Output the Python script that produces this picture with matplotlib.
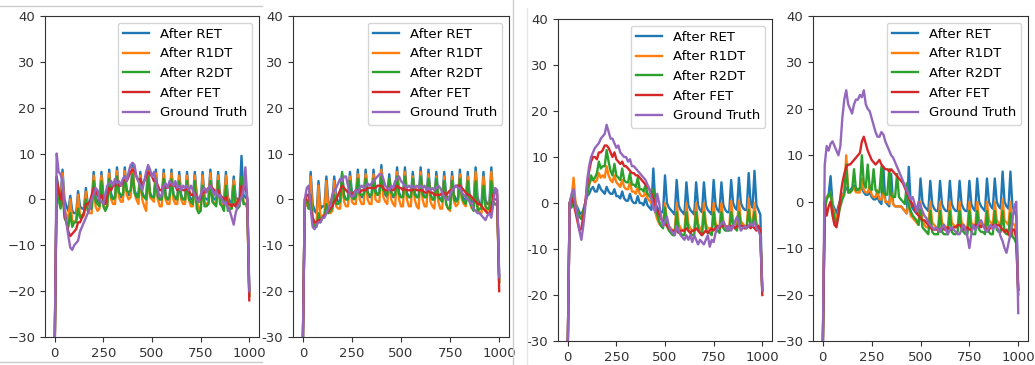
import matplotlib
matplotlib.use("Agg")
import matplotlib.pyplot as plt
from matplotlib.lines import Line2D
from matplotlib.ticker import FuncFormatter

# sample index, every 10th sample
steps = list(range(0, 1001, 10))
labels = ["After RET", "After R1DT", "After R2DT", "After FET", "Ground Truth"]

# ---- panel 1 ----
p1_ret = [-32, 5, 2, 0.5, 6.5, 0, -1.5, -2.5, 0.8, -2.5,
          -3, -3, 1.8, -1.5, -2, -2, 2.5, -1, -1.5, -1.5,
          6, 0.5, -0.5, -0.5, 6, 1, 0, 0, 6.5, 1.2,
          0.3, 0.2, 7, 1.5, 0.5, 0.5, 7, 1.8, 1, 1,
          7.5, 2, 1, 1, 6, 1.5, 0.5, 0.5, 7, 1.5,
          0.5, 0.5, 6.5, 1, 0, 0, 6.5, 1, 0, 0,
          6.5, 1, 0, 0, 6, 1, 0, 0, 6, 1,
          0, 0, 6, 1, -0.5, -0.5, 6, 0.5, 0, 0,
          6.5, 1, 0, 0, 6, 1, 0, -0.5, 6, 0.5,
          -0.5, -0.5, 5, 0.5, 0, 0, 9.5, 1, 0.5, 0,
          -20]
p1_r1dt = [-32, 3, 0, -1, 5.7, -2, -3.5, -4.5, 0, -4.5,
           -5, -4.5, 1, -3.5, -4, -3.5, 1.7, -2.5, -3, -3,
           5.2, -1.5, -2.5, -2, 5.2, -1, -2, -1.5, 5.7, 0,
           -1, -1, 6.2, 0.5, -0.5, -0.5, 6.2, 1, 0, 0.5,
           6.7, 1.5, 0, -1, 5.2, 0, -1.5, -2.5, 6.2, 0.5,
           0, -0.5, 5.7, 0, -1.5, -1.5, 5.7, 0, -1, -1,
           5.7, 0, -1, -1, 5.2, 0, -1, -1, 5.2, 0,
           -1.5, -1.5, 5.2, 0, -2, -2.5, 5.2, -0.5, -1, -1,
           5.7, 0, -1, -1, 5.2, 0, -1, -1.5, 5.2, -0.5,
           -2, -2, 4.2, -0.5, -1, -1, 3, -0.5, -1, -2,
           -21]
p1_r2dt = [-32, 4, 0, -2, 2, -4, -5, -6, -3, -6,
           -5, -5, -2, -4, -3.5, -3, 0, -2.5, -2, -2,
           4, -0.5, -1, -1.5, 4, -1.5, -2.5, -1.5, 4.5, 0.5,
           0, 0.5, 5, 1.5, 1, 1, 5, 2, 1.5, 2,
           5.5, 1.5, 0.5, 0.5, 4.5, 1, 0.5, 0, 5, 1,
           0.5, 0.5, 4.5, 0.5, 0, 0, 4.5, 0.5, 0, 0.5,
           4.5, 1, 0.5, 0, 4, 0.5, 0, 0, 4, 0,
           -0.5, -1, 4, -2, -3, -2.5, 3, -1.5, -1.5, -1,
           4, -0.5, -1, -1.5, 4, -1, -1.5, -2.5, 3, -2.5,
           -2, -2, 3, -1.5, -2, -1.5, 5, -1, -1, -1,
           -21]
p1_fet = [-32, 4.5, 2, 0, 2, -3, -5, -7, -8, -7.5,
          -7, -6.5, -5, -5, -4, -3, -1, -1, -0.5, 1,
          2.5, 2, 1, 0, 1, 0, -1, 1, 2.5, 2,
          3, 3, 4, 3, 3, 3.5, 5, 4, 5, 6,
          6.5, 6, 5, 4, 4.5, 3, 4, 5, 6, 5.5,
          5, 4, 4, 3, 2, 2, 3, 2.5, 2.5, 3,
          3.5, 3, 3, 2, 3, 2.5, 2, 2, 2.5, 2,
          1, 1, 1.5, 0.5, 0, 0, 2, 1.5, 2, 2.5,
          3, 2.5, 2, 1.5, 2, 1, 0.5, 0, 0.5, -1,
          -1, -1.5, -1, -1.5, -0.5, 0, 3, 2, 3, 0,
          -22]
p1_gt = [-32, 10, 6, 5.5, 4, -2, -5, -8, -10.5, -11,
         -10, -9.5, -9, -7, -6, -5, -4, -3, -2, 0,
         1, 2.5, 2, 0, -0.5, -1, 1, 3, 3.5, 4,
         3, 4.5, 3.5, 4, 3, 4.5, 5, 4, 6, 7.5,
         8, 7.5, 5, 4, 3, 2, 4, 6, 7.5, 6.5,
         5, 6, 4, 2, 0.5, 1, 3, 3.5, 2.5, 4,
         3.5, 3, 4, 2.5, 3, 2, 3, 2.5, 3, 2,
         3, 2, 1, 0, -0.5, 1, 2, 2.5, 1.5, 2.5,
         3, 2, 1, 2, 0.5, 1, 0, -1, -0.5, -2,
         -2.5, -4, -5.5, -3, -1.5, -1, 0.5, 2, 7, 0,
         -20]

# ---- panel 2 ----
p2_ret = [-32, 0, -1, -2, 6, -1, -2.5, -3, 4, -2,
          -1.5, -1.5, 5, -0.5, -1, -0.5, 5, 0.5, -0.5, -0.5,
          5.5, 1, 0, 0, 6, 1.5, 0.5, 0.5, 6.5, 1.5,
          0.5, 0.5, 6.5, 1.5, 0.5, 0.5, 6.5, 2, 1, 1,
          7.5, 2, 1, 0.5, 5.5, 1.5, 0.5, 0.5, 7, 1.5,
          0.5, 0.5, 7, 1.5, 0.5, 0.5, 6, 1.5, 0.5, 0.5,
          7, 1.5, 0.5, 0.5, 6.5, 1, 0, 0, 6, 1,
          0, 0, 6, 1, 0, 0, 6, 1, 0, 0,
          6.5, 1, 0, 0, 6, 0.5, -0.5, -0.5, 7, 0.5,
          -1, -1, 6, 0, -1, -1, 7, 0, 0, 0,
          -17]
p2_r1dt = [-32, 0, -1, -2, 5, -4, -5.5, -5, 3, -4,
           -3.5, -3.5, 4, -2.5, -3, -2.5, 4, -1.5, -2, -2,
           4.5, -0.5, -1.5, -1.5, 5, -0.5, -1, -1, 5.5, 0,
           -1, -1, 5.5, 0, -1, -1, 5.5, 0, -0.5, -0.5,
           6.5, 0.5, -0.5, -1, 4.5, 0, -1, -1.5, 6, 0,
           -1.5, -1.5, 6, 0, -1.5, -1.5, 5, 0, -1.5, -2,
           6, 0, -1.5, -1.5, 5.5, -0.5, -1.5, -2, 5, -0.5,
           -2, -2, 5, -1, -2, -2.5, 5, -0.5, -1.5, -1,
           5.5, 0, -1, -1.5, 5, -0.5, -2, -2, 6, -1.5,
           -3, -3, 5, -1.5, -2.5, -2, 6, -0.5, -1, -1.5,
           -18]
p2_r2dt = [-32, -1, 0, -2, 1, -5, -6, -6, -3, -5,
           -4, -3.5, -1, -3, -2.5, -2, 1, -1, -1, -0.5,
           6, 0.5, 0, 0, 4, 0.5, 0, 0.5, 4.5, 1,
           1, 1, 4.5, 1.5, 1, 1, 4.5, 1.5, 1, 1.5,
           5, 2, 1.5, 1, 4.5, 1.5, 1, 1, 5, 1,
           0.5, 0.5, 5, 1, 0.5, 0.5, 4.5, 1, 0.5, 0.5,
           5, 1, 0.5, 0.5, 4.5, 1, 0, 0, 4.5, 0.5,
           0, -0.5, 4, -1, -2, -2, 4, 0, -0.5, 0,
           4.5, 0.5, -0.5, -1, 4, -0.5, -1.5, -2.5, 4, -2.5,
           -2, -2, 3, -1.5, -2, -2, 4, -1, -1, -1,
           -18]
p2_fet = [-32, -1, 1, 1, -2, -4, -5, -5, -4.5, -4.5,
          -4, -3.5, -3, -2.5, -2, -1.5, -0.5, 0, 1, 2,
          3, 2.5, 2, 1.5, 1.5, 1, 1.5, 2, 2, 1.5,
          2, 2, 2, 2.5, 2.5, 2.5, 2.5, 2.5, 3, 3,
          3, 2.5, 2, 2, 2.5, 2, 2, 2.5, 3, 2.5,
          2.5, 2, 2.5, 2, 2, 2, 2, 2.5, 2, 2,
          2, 2, 1.5, 1.5, 2, 1.5, 1.5, 1, 1, 1,
          1, 1.5, 1.5, 1, 1.5, 2, 2, 2.5, 3, 3,
          3, 2.5, 2, 1.5, 1, 1, 0.5, 0, -0.5, -1,
          -1, -1.5, -2, -2.5, -3, -3, -2, 1, 2, 1,
          -20]
p2_gt = [-32, 0, 2.5, 3, -2, -6, -6.5, -5.5, -5, -5,
         -4, -4, -3, -2, -1, 1, 2, 2.5, 3.5, 4.5,
         4, 5, 5, 3, 1, 0.5, 1, 2, 1.5, 2.5,
         3, 2.5, 3, 3.5, 3, 3.5, 4, 4.5, 5, 5.5,
         5.5, 4.5, 3, 2.5, 2, 3, 2.5, 4, 4.5, 5,
         4, 3.5, 3, 2.5, 3, 2.5, 3, 2.5, 3, 2.5,
         3, 2.5, 3, 2, 2.5, 2, 2.5, 2, 2.5, 3,
         2.5, 1.5, 0.5, 0, 0, 1, 2, 2.5, 3, 2.5,
         2.5, 1.5, 1, 0.5, 0, -0.5, -1, -2, -2.5, -3,
         -3, -3.5, -4, -4.5, -3.5, -3, -4, -1, 2.5, 2,
         -17]

# ---- panel 3 ----
p3_ret = [-32, 0, 1.5, 2, 0, -1, -2, -2.5, -1.5, 0,
          1.5, 2, 3, 3.5, 2.5, 2.5, 4, 3, 2.5, 2,
          3.5, 2.5, 2, 2, 3, 1.5, 1.5, 1, 2.5, 1,
          0.5, 0.5, 2, 0.5, 0, 0, 1.5, 0, 0, -0.5,
          1, -0.5, -1, -1.5, 7.5, 0, -1, -1.5, -2, -2,
          6, 0, -1, -1.5, -2, -2.5, 5, -0.5, -1.5, -2,
          -2.5, 4.5, -0.5, -1.5, -2, -2.5, 4.5, -0.5, -1.5, -2,
          4.5, -0.5, -1.5, -2, -2.5, 5, -0.5, -1.5, -2, 4.5,
          -0.5, -1.5, -2, -2, 5, 0, -1, -1.5, 5.5, 0,
          -1, -1.5, -1.5, 6.5, 0, -1, 7, -0.5, -1.5, -2.5,
          -19]
p3_r1dt = [-32, 0, 1, 5.5, 0, -2, -3, -3, -2, 0,
           2, 4, 5, 5, 4.5, 5, 6.5, 5.5, 6, 5.5,
           8, 6, 5, 4.5, 6, 4.5, 4, 3.5, 5, 3.5,
           3, 3, 4.5, 2.5, 2.5, 2, 3.5, 2, 1.5, 1.5,
           2.5, 1, 0.5, 0, 2, -2, -3.5, -4.5, -5, -5,
           0, -4, -5, -5.5, -6, -6, 0, -4.5, -5.5, -6,
           -6, 0, -4.5, -5.5, -6, -6, 0, -4.5, -5.5, -6,
           0, -4.5, -5.5, -5.5, -6, 0, -4.5, -5, -5.5, 0,
           -4, -5, -5, -5.5, 0.5, -4, -4.5, -5, 0.5, -4,
           -4.5, -5, -5, 1, -4, -4.5, 0, -4.5, -5, -6,
           -19]
p3_r2dt = [-32, 0, -1, 2, -1, -2, -3, -3.5, -2, 0,
           2, 4, 6, 5, 5.5, 6.5, 9, 7.5, 8, 8,
           11.5, 9, 7, 6, 8.5, 6, 5.5, 5, 7.5, 5,
           4.5, 4.5, 6.5, 4, 4, 3.5, 5.5, 3, 3, 2.5,
           4, 2, 1.5, 1, 3, -1, -2.5, -4, -5, -5.5,
           -1, -5, -6, -6.5, -7, -7, -2, -6, -6.5, -7,
           -7, -2, -6, -6.5, -7, -7, -2, -5.5, -6.5, -7,
           -2, -5.5, -6.5, -6.5, -7, -2, -5.5, -6, -6.5, -2,
           -5.5, -6, -6, -6, -2, -5, -5.5, -6, -2, -5,
           -5, -5.5, -5.5, -1.5, -5, -5, -2, -5, -5.5, -7,
           -19]
p3_fet = [-32, 0, 1, 0, -2, -4, -6, -5.5, -3, 0,
          4, 7, 9, 10, 10, 9.5, 11, 11, 11.5, 12.5,
          12.5, 12, 11, 10, 11, 9.5, 9, 8.5, 9, 8,
          8, 7.5, 7, 6.5, 6.5, 6, 6, 5.5, 5, 4.5,
          4, 3.5, 3, 2, 1, -0.5, -1.5, -2.5, -3.5, -4,
          -4.5, -5, -5.5, -6, -6, -6, -6, -6.5, -6, -6,
          -6, -5.5, -6, -6.5, -6, -6, -5.5, -6, -6.5, -7,
          -6.5, -6, -6.5, -6, -5.5, -6, -5.5, -5, -5.5, -5,
          -5, -5, -5.5, -5, -5, -5, -5.5, -5, -5, -5,
          -5, -5.5, -5, -5, -5.5, -5, -5.5, -6, -5, -6,
          -20]
p3_gt = [-32, 0, 2, 3, -1, -3, -6, -8, -5, -1,
         5, 8, 10, 11, 12, 12.5, 13, 14, 14.5, 15,
         17, 15.5, 14, 14, 13, 12, 12.5, 11, 10.5, 10,
         10, 9, 9.5, 8, 8, 7.5, 7, 6.5, 6, 5.5,
         5, 4, 3, 1, -1, -2, 2, 0, -3, -5,
         -4, -3, -5, -6, -6.5, -7, -5, -6, -7, -7.5,
         -8, -7, -8, -7, -8.5, -7, -8, -9, -8, -8.5,
         -9, -8, -7, -9.5, -8, -8.5, -6.5, -5.5, -5, -4.5,
         -4, -5, -6, -5, -6, -5, -4, -3, -4.5, -6,
         -5.5, -5, -5.5, -5, -4.5, -5, -4, -5.5, -6, -7,
         -19]

# ---- panel 4 ----
p4_ret = [-32, 0, 1, 1.5, 5.5, -0.5, -1.5, -2.5, -1, 0.5,
          1.5, 2, 3, 2.5, 2.5, 3, 3.5, 3, 2.5, 2.5,
          3, 2, 1.5, 1.5, 2, 1, 0.5, 0.5, 1, 0,
          -0.5, 7.5, 0, -0.5, -1, 6, -0.5, -1, -1, -1,
          -1, -1.5, -2, -2.5, 7.5, -0.5, -1.5, -2, -2.5, -2.5,
          5, 0, -1, -1.5, -2, 4.5, -0.5, -1.5, -2, -2,
          4.5, -0.5, -1.5, -2, -2, 4.5, -0.5, -1.5, -2, -2,
          4.5, -0.5, -1.5, -2, -2, 4.5, -0.5, -1.5, -2, 5,
          0, -1, -1.5, -2, 5, 0, -1, -1.5, 5, 0,
          -1, -1.5, 6.5, 0, -1, -1.5, 6.5, -1, -2, -3,
          -19]
p4_r1dt = [-32, 0, 1, 1, 2, -1, -2.5, -4, -2, 0,
           1, 2, 10, 2, 2, 2.5, 3, 2, 2, 2,
           5, 2.5, 2, 2, 3.5, 1.5, 1, 1, 2.5, 0.5,
           0.5, 2, 0, 0, -0.5, 2, -0.5, -1, -1, -1,
           -1, -1.5, -2, -2.5, 0, -3, -3.5, -4, -4.5, -5,
           0, -4, -5, -5.5, -5.5, 0, -4.5, -5, -5.5, -5.5,
           0, -4.5, -5, -5.5, -5.5, 0, -4.5, -5, -5.5, -5.5,
           0, -4.5, -5, -5.5, -5.5, 0, -4.5, -5, -5.5, 0,
           -4, -5, -5, -5.5, 0, -4, -4.5, -5, 0, -4,
           -4.5, -5, 0.5, -4, -4.5, -5, 0, -4.5, -5, -6,
           -19]
p4_r2dt = [-32, -2, 0.5, 1.5, 2, -1.5, -3.5, -5, -3, -1,
           0.5, 1.5, 8, 2, 2, 2.5, 7, 2.5, 2.5, 3,
           10, 4, 3, 8, 3, 2.5, 7, 2.5, 2, 2,
           7.5, 2, 1.5, 1.5, 7, 1.5, 1, 1, 6, 1,
           0.5, 0, -0.5, 4, -1, -2, -3, -3.5, -4, -5,
           -1.5, -5.5, -6, -6.5, -7, -2, -6.5, -7, -7, -7,
           -2, -6.5, -7, -7, -7, -2, -6.5, -7, -7, -6.5,
           -2, -6, -6.5, -7, -7, -2, -6.5, -7, -7, -2,
           -6, -6.5, -6.5, -7, -2, -6.5, -7, -7, -2, -6,
           -6.5, -6.5, -2, -6.5, -7, -7, -2.5, -7.5, -8, -9,
           -19]
p4_fet = [-32, 0, -3, -1, 0, -3, -5, -5.5, -3, 1,
          4, 6, 7.5, 8, 8, 8.5, 9, 9.5, 10, 10.5,
          13, 14, 12.5, 11, 10, 9, 8.5, 8, 8.5, 9,
          8, 7.5, 7, 7, 6.5, 7, 6.5, 6, 5.5, 5,
          4.5, 4, 3, 2, 1, 0, -0.5, -1.5, -2.5, -3,
          -3.5, -4, -4, -4.5, -5, -5.5, -6, -6, -6, -6,
          -6, -5.5, -6, -6, -5.5, -6, -6, -5.5, -5.5, -5,
          -5, -5.5, -6, -6, -5.5, -6, -6, -5.5, -5, -5,
          -5, -5.5, -5, -5.5, -6, -6, -5.5, -5, -5, -5,
          -5, -5.5, -6, -6.5, -6, -7, -7.5, -6, -6, -8,
          -20]
p4_gt = [-32, 8, 12, 11, 12.5, 13, 12, 11, 10, 12,
         18, 22, 24, 21, 20, 19, 21, 22, 22, 23,
         22.5, 24, 21, 20, 19.5, 18, 16.5, 15, 14, 14,
         15, 14.5, 13, 12, 11, 10, 9.5, 8.5, 7.5, 6.5,
         5.5, 4.5, 3.5, 2.5, 1.5, 0.5, 1, -0.5, -2, 0,
         -1, -2, -3, -3.5, -4.5, -5, -5.5, -6, -5.5, -6,
         -6.5, -5.5, -5, -6, -7, -6, -5.5, -6, -6.5, -7,
         -7, -6, -5, -6, -7.5, -10, -7, -5, -6, -5.5,
         -4.5, -4, -5, -6, -6.5, -5.5, -5, -6, -5, -5.5,
         -6, -7.5, -8.5, -10, -11, -9, -7, -4, -1, 0,
         -24]

panels = [
    [p1_ret, p1_r1dt, p1_r2dt, p1_fet, p1_gt],
    [p2_ret, p2_r1dt, p2_r2dt, p2_fet, p2_gt],
    [p3_ret, p3_r1dt, p3_r2dt, p3_fet, p3_gt],
    [p4_ret, p4_r1dt, p4_r2dt, p4_fet, p4_gt],
]

# axes boxes in pixels: left, top, right, bottom (the picture is four screenshots side by side)
boxes = [(45, 16, 259, 337), (293, 16, 509, 337), (558, 19, 772, 341), (813, 16, 1028, 341)]
# panels 2 and 3 were saved with a plain hyphen as minus sign
hyphen_minus = [False, True, True, False]
W, H = 1035, 365

fig = plt.figure(figsize=(W / 100, H / 100), dpi=100)

for series, (l, t, r, b), hyph in zip(panels, boxes, hyphen_minus):
    ax = fig.add_axes([l / W, 1 - b / H, (r - l) / W, (b - t) / H])
    for ys, lab in zip(series, labels):
        ax.plot(steps, ys, label=lab, lw=1.7)
    ax.set_xlim(-50, 1050)
    ax.set_ylim(-30, 40)
    ax.set_xticks([0, 250, 500, 750, 1000])
    ax.set_yticks(range(-30, 41, 10))
    if hyph:
        ax.yaxis.set_major_formatter(FuncFormatter(lambda v, p: "%d" % v))
    ax.tick_params(labelsize=9.5, length=3.5, colors="#333333")
    ax.legend(loc="upper right", fontsize=9.5)
    for s in ax.spines.values():
        s.set_color("#333333")

# screenshot borders
grey = "#cccccc"
fig.add_artist(Line2D([0, 262 / W], [1 - 6 / H, 1 - 6 / H], color=grey, lw=1))
fig.add_artist(Line2D([0, 262 / W], [1 - 362 / H, 1 - 362 / H], color=grey, lw=1))
fig.add_artist(Line2D([513 / W, 513 / W], [0, 1], color=grey, lw=1))
fig.add_artist(Line2D([527 / W, 527 / W], [0, 1 - 8 / H], color="#e6e6e6", lw=1))

fig.savefig("out.png", dpi=100)
